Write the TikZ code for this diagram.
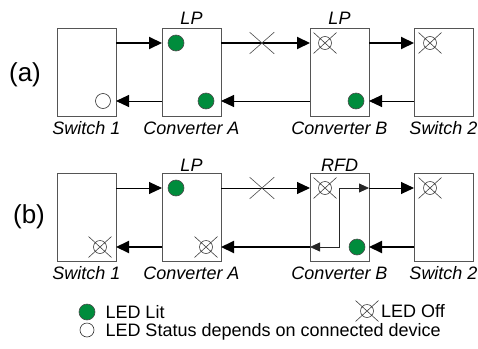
\documentclass[tikz,border=0pt]{standalone}
\usepackage{fontspec}
\setmainfont{Liberation Sans}
\usetikzlibrary{positioning}
\usetikzlibrary{arrows.meta}
\usetikzlibrary{shapes.misc}
\definecolor{ledgreen}{RGB}{0,140,60}
\definecolor{boxgray}{RGB}{85,85,85}

\begin{document}
\begin{tikzpicture}[
    x=1pt, y=-1pt,
    device/.style={rectangle, draw=boxgray, line width=0.8pt, minimum width=59pt, minimum height=88pt, inner sep=0pt, outer sep=0pt},
    lit/.style={circle, draw=black!70, fill=ledgreen, line width=0.6pt, minimum size=16pt, inner sep=0pt},
    depends/.style={circle, draw=black!80, fill=white, line width=0.6pt, minimum size=15pt, inner sep=0pt},
    lbl/.style={font=\fontsize{18}{20}\selectfont\itshape, inner sep=0pt, anchor=base},
    tag/.style={font=\fontsize{26}{28}\selectfont, inner sep=0pt},
    keytext/.style={font=\fontsize{18}{20}\selectfont, inner sep=0pt, text height=13pt, text depth=0pt},
    link/.style={-{Triangle[length=13pt,width=12pt]}, line width=1pt},
    mainlink/.style={link, line width=2pt},
    loopback/.style={{Triangle[length=10pt,width=9pt]}-{Triangle[length=10pt,width=9pt]}, draw=black!85, line width=0.8pt},
    cut/.style={cross out, draw=black!70, line width=0.6pt, minimum width=24pt, minimum height=21pt, inner sep=0pt},
    ledoff/.pic={\draw[black!75, line width=0.6pt] (0,0) circle (6.5) (-11.5,-10.5) -- (11.5,10.5) (-11.5,10.5) -- (11.5,-10.5);}
]
    \useasboundingbox (0,0) rectangle (478,348);

    % (a) normal operation, fault on the link
    \node[device] (sw1a) at (86.5,72) {};
    \node[device, right=46pt of sw1a] (cvAa) {};
    \node[device, right=89pt of cvAa] (cvBa) {};
    \node[device, right=45pt of cvBa] (sw2a) {};
    \node[tag] (tagA) at (25,75) {(a)};

    \node[lbl] at ([yshift=4pt]cvAa.north) {LP};
    \node[lbl] at ([yshift=4pt]cvBa.north) {LP};
    \node[lbl] at ([yshift=-18pt]sw1a.south) {Switch 1};
    \node[lbl] at ([yshift=-18pt]cvAa.south) {Converter A};
    \node[lbl] at ([yshift=-18pt]cvBa.south) {Converter B};
    \node[lbl] at ([yshift=-18pt]sw2a.south) {Switch 2};

    \node[lit] (ledAa1) at ([shift={(14,15)}]cvAa.north west) {};
    \node[lit] (ledAa2) at ([shift={(-15,-15)}]cvAa.south east) {};
    \node[lit] (ledBa2) at ([shift={(-13,-15)}]cvBa.south east) {};
    \node[depends] (ledS1a) at ([shift={(-13,-15)}]sw1a.south east) {};
    \pic at ([shift={(15,15)}]cvBa.north west) {ledoff};
    \pic at ([shift={(16,15)}]sw2a.north west) {ledoff};

    \draw[mainlink] ([yshift=-15pt]sw1a.north east) -- ([yshift=-15pt]cvAa.north west);
    \draw[mainlink] ([yshift=-15pt]cvAa.north east) -- node[cut, pos=0.46] (cutA) {} ([yshift=-15pt]cvBa.north west);
    \draw[mainlink] ([yshift=-15pt]cvBa.north east) -- ([yshift=-15pt]sw2a.north west);
    \draw[link] ([yshift=15pt]sw2a.south west) -- ([yshift=15pt]cvBa.south east);
    \draw[link] ([yshift=15pt]cvBa.south west) -- ([yshift=15pt]cvAa.south east);
    \draw[link] ([yshift=15pt]cvAa.south west) -- ([yshift=15pt]sw1a.south east);

    % (b) remote fault detect
    \node[device, below=57pt of sw1a] (sw1b) {};
    \node[device, below=57pt of cvAa] (cvAb) {};
    \node[device, below=57pt of cvBa] (cvBb) {};
    \node[device, below=57pt of sw2a] (sw2b) {};
    \node[tag] (tagB) at (29,217) {(b)};

    \node[lbl] at ([yshift=2pt]cvAb.north) {LP};
    \node[lbl] at ([yshift=2pt]cvBb.north) {RFD};
    \node[lbl] at ([yshift=-18pt]sw1b.south) {Switch 1};
    \node[lbl] at ([yshift=-18pt]cvAb.south) {Converter A};
    \node[lbl] at ([yshift=-18pt]cvBb.south) {Converter B};
    \node[lbl] at ([yshift=-18pt]sw2b.south) {Switch 2};

    \node[lit] (ledAb1) at ([shift={(14,15)}]cvAb.north west) {};
    \node[lit] (ledBb2) at ([shift={(-12,-14)}]cvBb.south east) {};
    \pic at ([shift={(-15,-14)}]cvAb.south east) {ledoff};
    \pic at ([shift={(-16,-14)}]sw1b.south east) {ledoff};
    \pic at ([shift={(15,15)}]cvBb.north west) {ledoff};
    \pic at ([shift={(16,15)}]sw2b.north west) {ledoff};

    \draw[link] ([yshift=-15pt]sw1b.north east) -- ([yshift=-15pt]cvAb.north west);
    \draw[link] ([yshift=-15pt]cvAb.north east) -- node[cut, pos=0.46] (cutB) {} ([yshift=-15pt]cvBb.north west);
    \draw[link] ([yshift=-15pt]cvBb.north east) -- ([yshift=-15pt]sw2b.north west);
    \draw[mainlink] ([yshift=14pt]sw2b.south west) -- ([yshift=14pt]cvBb.south east);
    \draw[mainlink] ([yshift=14pt]cvBb.south west) -- ([yshift=14pt]cvAb.south east);
    \draw[mainlink] ([yshift=14pt]cvAb.south west) -- ([yshift=14pt]sw1b.south east);
    \draw[loopback] ([yshift=14pt]cvBb.south west) -| ([yshift=-15pt]cvBb.north) -- ([yshift=-15pt]cvBb.north east);

    % key
    \node[lit] (keyLit) at (87,312) {};
    \node[keytext, right=10pt of keyLit] (txtLit) {LED Lit};
    \node[depends, minimum size=14pt] (keyDep) at (87,330) {};
    \node[keytext, right=11pt of keyDep] (txtDep) {LED Status depends on connected device};
    \coordinate (keyOff) at (367,311);
    \pic at (keyOff) {ledoff};
    \node[keytext, right=14pt of keyOff] (txtOff) {LED Off};
\end{tikzpicture}
\end{document}
